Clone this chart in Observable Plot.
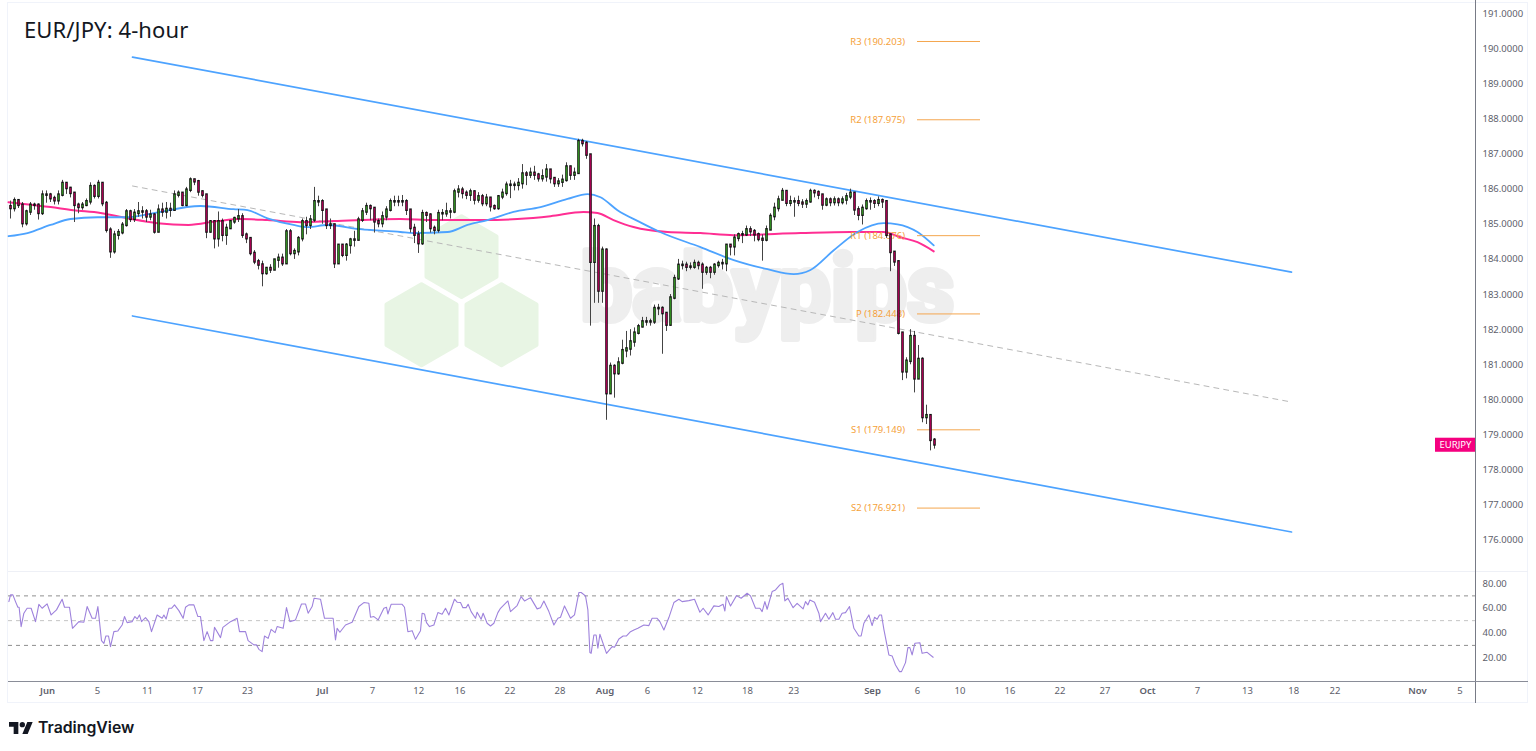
<!DOCTYPE html>
<html><head><meta charset="utf-8">
<script src="https://cdn.jsdelivr.net/npm/d3@7"></script>
<script src="https://cdn.jsdelivr.net/npm/@observablehq/plot@0.6"></script>
<style>
html,body{margin:0;padding:0;background:#fff;width:1536px;height:751px;overflow:hidden}
#wrap{position:relative;width:1536px;height:751px;font-family:"Noto Sans",sans-serif}
#wrap>div.plot{position:absolute;left:0}
svg{display:block}
.chrome{position:absolute}
#title{position:absolute;left:24px;top:14px;font:22px "Noto Sans",sans-serif;color:#131722;letter-spacing:.1px}
#brand{position:absolute;left:9px;top:718px;display:flex;align-items:center;gap:5px;font:600 15.8px Inter,sans-serif;color:#131722}
</style></head><body>
<div id="wrap">
  <div class="chrome" style="left:7px;top:2px;width:1521px;height:701px;border:1px solid #f0f3fa;box-sizing:border-box"></div>
  <div class="plot" id="main" style="top:0"></div>
  <div class="chrome" style="left:8px;top:571px;width:1520px;height:1px;background:#eef0f6"></div>
  <div class="plot" id="rsi" style="top:571px"></div>
  <div class="chrome" style="left:8px;top:681px;width:1520px;height:1px;background:#8a8d98"></div>
  <div id="title">EUR/JPY: 4-hour</div>
  <div id="brand"><svg width="24" height="18" viewBox="0 0 36 26"><path fill="#131722" d="M14 22H7V11H0V4h14v18zM28 22h-8l7.5-18h8L28 22z"/><circle fill="#131722" cx="20" cy="8" r="4"/></svg><span>TradingView</span></div>
</div>
<script>
// Trading sessions (x), prices (y). One sampled candle every stepSession.
const firstSession = -2.96, stepSession = 0.32, firstOpen = 185.5;
const closes = [
185.45,185.67,185.54,185.02,185.35,185.54,185.54,185.31,185.83,185.83,185.73,185.67,185.83,186.16,186.02,185.88,185.54,185.48,185.54,185.64,186.07,185.80,186.16,185.59,184.83,184.22,184.69,184.76,184.97,185.35,185.14,185.31,185.35,185.35,185.21,185.26,184.78,185.40,185.35,185.42,
185.40,185.83,185.88,185.54,185.97,186.26,186.21,185.92,185.83,184.78,185.07,184.59,185.07,184.69,184.88,185.07,185.16,185.21,184.69,184.59,184.17,183.93,183.84,183.60,183.74,183.70,183.98,184.03,183.88,184.78,184.17,184.22,184.59,185.07,184.97,185.12,185.64,185.64,185.40,184.97,
184.98,183.88,184.40,184.12,184.40,184.55,184.55,185.12,185.35,185.50,185.45,185.07,185.02,185.21,185.40,185.64,185.64,185.64,185.64,185.40,184.88,184.69,184.45,185.30,185.26,184.88,184.83,185.30,185.30,185.35,185.35,185.92,185.97,185.88,185.83,185.92,185.69,185.78,185.59,185.74,185.50,185.45,185.78,185.88,186.11,186.11,186.11,186.16,186.43,186.40,186.45,186.40,186.30,186.35,186.54,186.30,186.16,186.20,186.25,186.63,186.40,186.45,187.35,187.30,186.97,183.92,184.93,183.10,184.26,180.18,180.95,180.75,181.05,181.40,181.45,181.65,181.90,182.08,182.22,182.22,182.22,182.60,182.60,182.46,182.13,182.90,183.45,183.83,183.83,183.78,183.78,183.88,183.83,183.64,183.74,183.64,183.83,183.88,183.88,184.40,184.36,184.60,184.70,184.70,184.84,184.79,184.70,184.57,184.55,184.84,185.22,185.45,185.69,185.93,185.60,185.64,185.64,185.60,185.58,185.64,185.93,185.90,185.83,185.55,185.69,185.62,185.69,185.62,185.69,185.78,185.88,185.41,185.26,185.45,185.64,185.64,185.60,185.67,185.64,184.69,184.20,183.93,181.90,180.80,181.10,181.80,180.60,181.15,179.50,179.55,178.85,178.72];
const highs = [
185.66,185.75,185.70,185.62,185.40,185.62,185.60,185.58,185.95,185.95,185.88,185.80,185.95,186.25,186.18,186.05,185.90,185.60,185.62,185.72,186.18,186.12,186.25,186.18,185.65,184.90,184.80,184.85,185.05,185.42,185.40,185.42,185.62,185.50,185.42,185.40,185.30,185.55,185.60,185.62,
185.60,185.95,185.95,185.90,186.05,186.32,186.28,186.25,185.95,185.85,185.10,185.10,185.35,185.15,185.00,185.10,185.20,185.42,185.30,184.75,184.62,184.25,184.00,183.95,183.75,183.85,184.00,184.15,184.15,184.85,184.85,184.30,184.65,185.15,185.20,185.25,186.05,185.80,185.70,185.40,
185.15,185.00,184.42,184.40,184.45,184.60,184.80,185.20,185.45,185.60,185.55,185.45,185.15,185.35,185.50,185.72,185.80,185.80,185.82,185.70,185.42,185.00,184.80,185.40,185.35,185.30,184.95,185.40,185.42,185.60,185.45,186.00,186.10,186.05,185.95,186.00,185.95,185.90,185.85,185.85,185.75,185.55,185.82,186.00,186.20,186.25,186.20,186.30,186.70,186.50,186.60,186.65,186.45,186.55,186.70,186.55,186.30,186.30,186.40,186.75,186.65,186.60,187.42,187.42,187.35,186.95,185.15,185.00,184.35,184.30,181.05,181.00,181.20,181.70,181.95,182.00,182.05,182.15,182.35,182.35,182.30,182.70,182.72,182.65,182.45,183.00,183.55,184.00,183.95,183.92,183.90,183.98,183.95,183.90,183.80,183.80,183.88,183.95,184.00,184.42,184.40,184.70,184.75,184.80,184.95,184.93,184.85,184.75,184.70,184.95,185.30,185.60,185.80,186.02,185.95,185.80,185.75,185.80,185.70,185.72,186.00,185.98,185.95,185.85,185.75,185.75,185.78,185.75,185.78,185.88,186.00,185.90,185.50,185.55,185.72,185.75,185.70,185.78,185.72,185.60,184.72,184.20,183.95,181.90,181.20,182.00,181.95,181.55,181.20,179.85,179.55,178.90];
const lows = [
185.15,185.35,185.45,184.90,184.95,185.25,185.40,185.12,185.25,185.60,185.62,185.55,185.55,185.78,185.85,185.75,185.05,185.30,185.40,185.50,185.55,185.72,185.72,185.50,184.75,184.03,184.15,184.55,184.70,184.92,185.05,185.05,185.20,185.15,185.05,185.10,184.72,184.78,185.20,185.15,
185.20,185.40,185.75,185.50,185.50,185.90,186.10,185.80,185.75,184.59,184.75,184.30,184.35,184.50,184.40,184.85,185.00,185.05,184.60,184.45,184.10,183.85,183.70,183.22,183.55,183.60,183.85,183.75,183.80,184.10,184.10,184.00,184.10,184.50,184.70,184.85,185.05,185.50,185.00,184.85,
184.85,183.74,183.88,184.05,183.95,184.15,184.35,184.70,185.05,185.25,185.10,184.75,184.90,184.90,185.10,185.35,185.50,185.50,185.50,185.25,184.75,184.45,184.17,184.40,185.05,184.75,184.70,184.75,185.10,185.20,185.15,185.30,185.75,185.72,185.70,185.65,185.55,185.60,185.50,185.50,185.35,185.40,185.40,185.70,185.80,185.73,185.95,185.95,186.00,186.10,186.30,186.25,186.20,186.20,186.20,186.15,186.05,186.05,186.05,186.20,186.25,186.25,186.60,187.20,186.85,182.10,182.75,182.75,182.75,179.42,180.30,180.05,180.70,181.00,181.20,181.25,181.50,181.85,182.05,182.10,182.10,182.15,182.40,181.30,181.95,182.10,182.85,183.40,183.70,183.65,183.70,183.72,183.70,183.15,183.55,183.45,183.55,183.75,183.70,183.65,184.10,184.10,184.50,184.45,184.65,184.65,184.50,184.50,183.95,184.50,184.85,185.10,185.35,185.70,185.50,185.50,185.20,185.50,185.45,185.45,185.60,185.75,185.70,185.40,185.50,185.50,185.52,185.50,185.55,185.55,185.70,185.25,185.10,184.98,185.40,185.40,185.45,185.50,185.45,184.60,183.65,183.80,181.85,180.55,180.60,181.00,180.20,180.60,179.35,179.30,178.55,178.60];
const maFastSessions = [-3.12,-1.6,0.24,1.84,4,6.4,8.48,12.24,14.88,16,17.6,19.68,20.8,22.4,25,28.24,29.28,32,33.6,35.2,37.28,39.44,41.6,43.2,44.24,45.6,47.4,49,52.24,54.9,57.6,59.7,61,62.9,64.8,66.9,68,69.6,70.9];
const maFast = [184.66,184.75,184.98,185.15,185.20,185.20,185.32,185.52,185.43,185.40,185.17,184.98,184.92,184.98,184.86,184.78,184.75,184.78,184.98,185.12,185.35,185.49,185.72,185.86,185.77,185.40,185.06,184.78,184.35,183.98,183.72,183.58,183.69,184.26,184.78,185.03,185.00,184.78,184.40].slice(0,39);
const maSlowSessions = [-3.12,0.24,2.08,4.24,6.4,8.8,11.28,13.6,15.44,17.6,20.24,22.88,28.24,30.88,34.88,37.6,40.24,42.88,44,45.28,46.88,49.6,52.24,54.9,60.24,64.24,66.9,68.24,69.6,70.9];
const maSlow = [185.63,185.49,185.40,185.32,185.17,185.03,184.98,185.09,185.15,185.12,185.06,185.09,185.15,185.12,185.12,185.15,185.23,185.35,185.32,185.12,184.92,184.78,184.75,184.69,184.75,184.78,184.78,184.63,184.49,184.23];
const channelEnds = [6.8,99.52];
const channelUpper = [189.76,183.64];
const channelMiddle = [186.09,179.94];
const channelLower = [182.39,176.24];
const pivotNames = ["R3","R2","R1","P","S1","S2"];
const pivotValues = [190.203,187.975,184.676,182.448,179.149,176.921];
const pivotStart = 69.6, pivotEnd = 74.64, pivotLabelAt = 68.6;
const priceTicks = d3.range(176,192);
const rsiTicks = [20,40,60,80];
const rsiGuides = [70,50,30];
const timeTickSessions = [0,4,8,12,16,22,26,29.7,33,37,41,44.6,48,52,56,59.7,66,69.6,73,77,81,84.6,88,92,96,99.7,103,109.6,113];
const timeTickLabels = ["Jun","5","11","17","23","Jul","7","12","16","22","28","Aug","6","12","18","23","Sep","6","10","16","22","27","Oct","7","13","18","22","Nov","5"];
const rsiSessions = [-3.09,-2.96,-2.77,-2.56,-2.37,-2.27,-2.11,-1.89,-1.63,-1.31,-.96,-.69,-.43,-.03,.29,.72,1.17,1.36,1.76,2,2.51,2.91,3.17,3.57,3.84,4.03,4.32,4.51,4.67,4.88,5.04,5.31,5.63,5.97,6.16,6.37,6.77,6.99,7.17,7.36,7.52,7.84,8.11,8.32,8.77,9.17,9.31,9.49,9.71,9.92,10.16,10.51,10.85,11.04,11.31,11.71,12.03,12.24,12.51,12.77,13.04,13.23,13.36,13.84,14.03,14.64,15.17,15.36,15.84,16.05,16.51,16.72,16.91,17.17,17.36,17.65,17.89,18.21,18.37,18.85,19.12,19.39,19.84,20.32,20.64,20.85,21.17,21.33,21.84,22.16,22.85,23.04,23.17,23.39,23.84,24.37,24.91,25.31,25.71,25.84,26.11,26.45,26.91,27.12,27.23,27.49,28.37,28.56,28.83,29.17,29.44,29.84,29.97,30.16,30.32,30.56,30.91,31.23,31.57,31.84,32.11,32.56,32.77,33.04,33.23,33.49,33.65,33.89,34.24,34.37,34.69,34.85,35.17,35.44,35.71,36.03,36.24,36.83,37.04,37.57,37.89,38.16,38.64,39.17,39.44,39.71,40.11,40.51,40.83,41.04,41.36,41.84,42.16,42.51,42.69,43.04,43.23,43.39,43.49,43.71,43.89,44.03,44.19,44.72,45.17,45.36,45.71,46.05,46.32,46.64,46.91,47.23,47.71,48.11,48.37,48.77,48.99,49.31,49.71,50.11,50.51,50.77,51.31,51.76,52.19,52.45,52.85,53.31,53.71,54.05,54.19,54.32,54.64,55.12,55.49,55.97,56.24,56.64,56.99,57.17,57.39,57.57,57.97,58.24,58.59,58.83,58.99,59.23,59.65,59.97,60.45,60.64,60.83,60.99,61.36,61.71,61.84,62.24,62.51,62.83,63.04,63.31,63.57,63.84,64.16,64.51,64.91,65.09,65.31,65.71,65.97,66.16,66.37,66.56,66.72,66.91,67.31,67.57,67.84,68.16,68.32,68.64,68.83,68.99,69.17,69.39,69.79,69.97,70.37,70.85];
const rsiValues = [65.4,70.8,70.8,65.4,60.8,60.8,45.2,56,60,60,49.2,63.2,60,63.5,54.6,58.7,67.3,60.8,60.8,43.8,49.2,48.7,61.4,51.9,51.9,61.4,33.9,31.7,37.6,37.6,29,41.1,41.7,46.5,53.3,48.4,49.2,53.3,51.4,54.6,49.2,52.5,49.2,41.1,54.6,51.9,54.6,51.4,60,60,62.7,58.1,51.9,60.8,62.7,62.7,53.3,53.3,33.9,41.1,33.9,33.9,44.6,36.3,44.6,49.2,51.9,41.1,41.1,33.9,30.4,30.4,26.8,25,37.6,35.7,43,40.3,45.2,43.8,60.5,49.2,50.6,63.5,63.5,56,61.4,68.1,67.3,51.9,51.9,34.4,43.8,40.6,46.5,48.7,61.4,64.6,64,52.7,53.3,50.6,60,60.8,55.4,63.2,63.2,60.8,41.1,41.9,34.9,41.9,56,55.4,48.4,45.2,46.5,56.5,55.2,60,54.6,67.3,64.9,64.6,60.5,60.5,63.2,57.3,51.9,56.8,51.1,56,47.9,45.7,47.9,56.5,60,65.9,57.3,62.2,69.4,65.9,68.6,59.5,60.5,65.9,57.3,46.5,51.9,52.7,61.9,51.9,54.6,72.7,72.7,70,58.7,24.2,23.6,38.4,38.4,27.7,39,23.6,29,28.5,35.2,37.6,37.6,41.1,42.5,43.8,46.5,46,51.9,51.9,49.2,42.5,52.5,64.6,67.3,65.4,66.2,67.3,56.8,60,54.6,61.9,61.4,63.2,57.8,69.4,61.9,70.2,68.1,72.1,70,60,60,57.3,65.4,59.2,73.5,74.8,78.9,80.2,65.9,68.1,60.5,64,59.5,65.4,62.7,66.7,64.9,56,49.2,56,51.1,56.5,51.1,51.1,56,56.5,61.4,43.8,37.6,37.6,47.9,54.6,46,52.7,51.1,54.6,54.6,43,22.3,21.5,14.2,8.8,8.8,16.1,28.2,28.2,22.3,31.7,32.2,23.6,24.4,20.4];
const xDomain = [-3.12,114.24];
const priceDomain = [175.116,191.37];
const rsiDomain = [0.84,89.7];
const hexSessions = [33.12,29.92,36.32], hexPrices = [184.08,182.14,182.14];
const watermarkSession = 42.64, watermarkPrice = 183.10;
const bookmarkSession = 111.04, tagPrice = 178.71;

const candles = closes.map((c,i)=>({x:firstSession+i*stepSession,open:i?closes[i-1]:firstOpen,close:c,high:highs[i],low:lows[i]}));
const channel = (vals)=>channelEnds.map((x,i)=>({x,y:vals[i]}));
const pts = (xs,ys)=>xs.map((x,i)=>({x,y:ys[i]}));
const upColor="#2f8a1f", downColor="#a3004f", axisColor="#5d606b", font='"Noto Sans",sans-serif';

const main = Plot.plot({
  width:1536,height:571,marginTop:0,marginBottom:0,marginLeft:8,marginRight:61,
  style:{background:"transparent",fontFamily:font,overflow:"visible"},
  x:{domain:xDomain,axis:null},y:{domain:priceDomain,axis:null},
  marks:[
    Plot.dot(pts(hexSessions,hexPrices),{x:"x",y:"y",r:35,symbol:"hexagon",fill:"#e8f5e4",stroke:"#e8f5e4",strokeWidth:4,strokeLinejoin:"round"}),
    Plot.text([{x:watermarkSession,y:watermarkPrice}],{x:"x",y:"y",text:()=>"babypips",textAnchor:"start",fontSize:92,fontWeight:700,fontFamily:"Roboto",fill:"#eeeeee",stroke:"#eeeeee",strokeWidth:6,strokeLinejoin:"round"}),
    Plot.line(channel(channelMiddle),{x:"x",y:"y",stroke:"#b8b8b8",strokeWidth:1,strokeDasharray:"5,5"}),
    Plot.line(channel(channelUpper),{x:"x",y:"y",stroke:"#4da3ff",strokeWidth:1.7}),
    Plot.line(channel(channelLower),{x:"x",y:"y",stroke:"#4da3ff",strokeWidth:1.7}),
    Plot.line(pts(maSlowSessions,maSlow),{x:"x",y:"y",stroke:"#ff2e93",strokeWidth:2,curve:"monotone-x"}),
    Plot.line(pts(maFastSessions,maFast),{x:"x",y:"y",stroke:"#4da3ff",strokeWidth:1.8,curve:"monotone-x"}),
    Plot.ruleY(pivotValues,{x1:pivotStart,x2:pivotEnd,stroke:"#f4a64e",strokeWidth:1}),
    Plot.text(pivotValues,{x:pivotLabelAt,y:d=>d,text:(d,i)=>`${pivotNames[i]} (${d.toFixed(3)})`,textAnchor:"end",fontSize:9.5,fill:"#f5a13a",fontFamily:font}),
    Plot.ruleX(candles,{x:"x",y1:"low",y2:"high",stroke:"#444",strokeWidth:1}),
    Plot.ruleX(candles,{x:"x",y1:"open",y2:"close",stroke:"#111",strokeWidth:2.6,strokeLinecap:"square"}),
    Plot.ruleX(candles,{x:"x",y1:"open",y2:"close",stroke:d=>d.close>=d.open?upColor:downColor,strokeWidth:1.4}),
    Plot.rect([{x1:bookmarkSession,x2:xDomain[1],y1:tagPrice-0.2,y2:tagPrice+0.2}],{x1:"x1",x2:"x2",y1:"y1",y2:"y2",fill:"#f5007f"}),
    Plot.text([{x:(bookmarkSession+xDomain[1])/2,y:tagPrice}],{x:"x",y:"y",text:()=>"EURJPY",fill:"#fff",fontSize:9.5,fontFamily:font}),
    Plot.ruleX([xDomain[1]],{stroke:"#787b86",strokeWidth:1}),
    Plot.axisY(priceTicks,{anchor:"right",label:null,tickSize:0,tickPadding:7,tickFormat:d=>d.toFixed(4),fontSize:9.5,fill:axisColor,fontFamily:font})
  ]
});
document.getElementById("main").append(main);

const labelBySession = new Map(timeTickSessions.map((s,i)=>[s,timeTickLabels[i]]));
const isMonth = s=>/[A-Z]/.test(labelBySession.get(s));
const rsi = Plot.plot({
  width:1536,height:132,marginTop:0,marginBottom:22,marginLeft:8,marginRight:61,
  style:{background:"transparent",fontFamily:font,overflow:"visible"},
  x:{domain:xDomain,axis:null},y:{domain:rsiDomain,axis:null},
  marks:[
    Plot.ruleY(rsiGuides,{stroke:d=>d===50?"#c4c4c4":"#8f8f8f",strokeWidth:1,strokeDasharray:"4,4"}),
    Plot.line(pts(rsiSessions,rsiValues),{x:"x",y:"y",stroke:"#9e82dc",strokeWidth:1.1}),
    Plot.ruleX([xDomain[1]],{y1:rsiDomain[0],y2:rsiDomain[1],stroke:"#787b86",strokeWidth:1}),
    Plot.ruleX([xDomain[1]],{y1:rsiDomain[0],y2:rsiDomain[1],dy:22,stroke:"#787b86",strokeWidth:1}),
    Plot.axisY(rsiTicks,{anchor:"right",label:null,tickSize:0,tickPadding:7,tickFormat:d=>d.toFixed(2),fontSize:9.5,fill:axisColor,fontFamily:font}),
    Plot.axisX(timeTickSessions.filter(s=>!isMonth(s)),{anchor:"bottom",label:null,tickSize:0,tickPadding:6,tickFormat:d=>labelBySession.get(d),fontSize:9.5,fill:axisColor,fontFamily:font}),
    Plot.axisX(timeTickSessions.filter(isMonth),{anchor:"bottom",label:null,tickSize:0,tickPadding:6,tickFormat:d=>labelBySession.get(d),fontSize:9.5,fontWeight:600,fill:axisColor,fontFamily:font})
  ]
});
document.getElementById("rsi").append(rsi);
</script>
</body></html>
